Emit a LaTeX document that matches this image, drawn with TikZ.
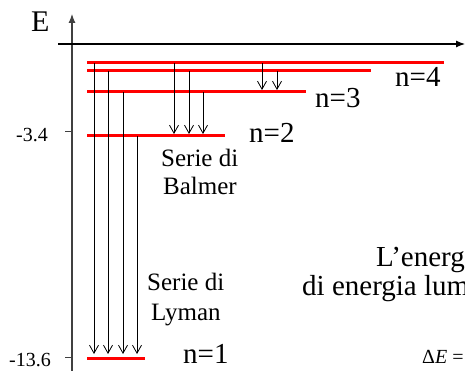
\documentclass[tikz,border=0pt]{standalone}
\usepackage{fontspec}
\setmainfont{Liberation Serif}
\usetikzlibrary{arrows.meta}
\begin{document}
\begin{tikzpicture}[x=1pt,y=-1pt,
  level/.style={red, line width=3pt},
  trans/.style={line width=0.8pt, -{Straight Barb[length=8pt,width=9pt,line width=0.8pt]}},
  axisline/.style={line width=1.1pt},
  lab/.style={inner sep=0pt, anchor=base west},
  big/.style={font=\fontsize{29}{33}\selectfont},
  ser/.style={font=\fontsize{25}{29}\selectfont},
  tick/.style={font=\fontsize{20}{24}\selectfont},
  txt/.style={font=\fontsize{29}{33}\selectfont}]
\useasboundingbox (0,0) rectangle (465,371);
\clip (0,0) rectangle (465,371);
% axes
\coordinate (vbot) at (72,372);
\coordinate (vtop) at (72,14);
\coordinate (hl) at (58,44);
\coordinate (hr) at (465,44);
\draw[axisline, black!75, -{Latex[length=9pt,width=7pt]}] (vbot) -- (vtop);
\draw[axisline, -{Latex[length=9pt,width=7pt]}] (hl) -- (hr);
\node[lab, font=\fontsize{30}{34}\selectfont] (E) at (31,32) {E};
% ticks
\coordinate (t2a) at (65,132); \coordinate (t2b) at (72,132);
\coordinate (t1a) at (65,357); \coordinate (t1b) at (72,357);
\draw[black!75, line width=1pt] (t2a) -- (t2b);
\draw[black!75, line width=1pt] (t1a) -- (t1b);
\node[lab, anchor=base east, tick] (tk2) at (48,142) {-3.4};
\node[lab, anchor=base east, tick] (tk1) at (51,366) {-13.6};
% levels
\coordinate (l4a) at (87,63);  \coordinate (l4b) at (444,63);
\coordinate (l5a) at (87,71);  \coordinate (l5b) at (371,71);
\coordinate (l3a) at (87,92);  \coordinate (l3b) at (306,92);
\coordinate (l2a) at (87,136); \coordinate (l2b) at (225,136);
\coordinate (l1a) at (87,358); \coordinate (l1b) at (145,358);
\draw[level] (l4a) -- (l4b);
\draw[level] (l5a) -- (l5b);
\draw[level] (l3a) -- (l3b);
\draw[level] (l2a) -- (l2b);
\draw[level] (l1a) -- (l1b);
% Lyman
\foreach \x/\y in {94/63,108/71,123/92,137/136}
  \draw[trans] (\x,\y) -- (\x,354);
% Balmer
\foreach \x/\y in {174/63,189/71,203/92}
  \draw[trans] (\x,\y) -- (\x,134);
% Paschen
\foreach \x/\y in {262/63,277/71}
  \draw[trans] (\x,\y) -- (\x,90);
% labels
\node[lab, big] (n4) at (395,87) {n=4};
\node[lab, big] (n3) at (315,108) {n=3};
\node[lab, big] (n2) at (249,143) {n=2};
\node[lab, big] (n1) at (183,363) {n=1};
\node[lab, ser] (sb1) at (161,167) {Serie di};
\node[lab, ser] (sb2) at (163,195) {Balmer};
\node[lab, ser] (sl1) at (147,290) {Serie di};
\node[lab, ser] (sl2) at (151,320) {Lyman};
\node[lab, txt] (t1) at (376,266) {L’energia};
\node[lab, txt] (t2) at (302,295) {di energia luminosa};
\node[lab, tick] (t3) at (422,363) {Δ\textit{E} =};
\end{tikzpicture}
\end{document}
